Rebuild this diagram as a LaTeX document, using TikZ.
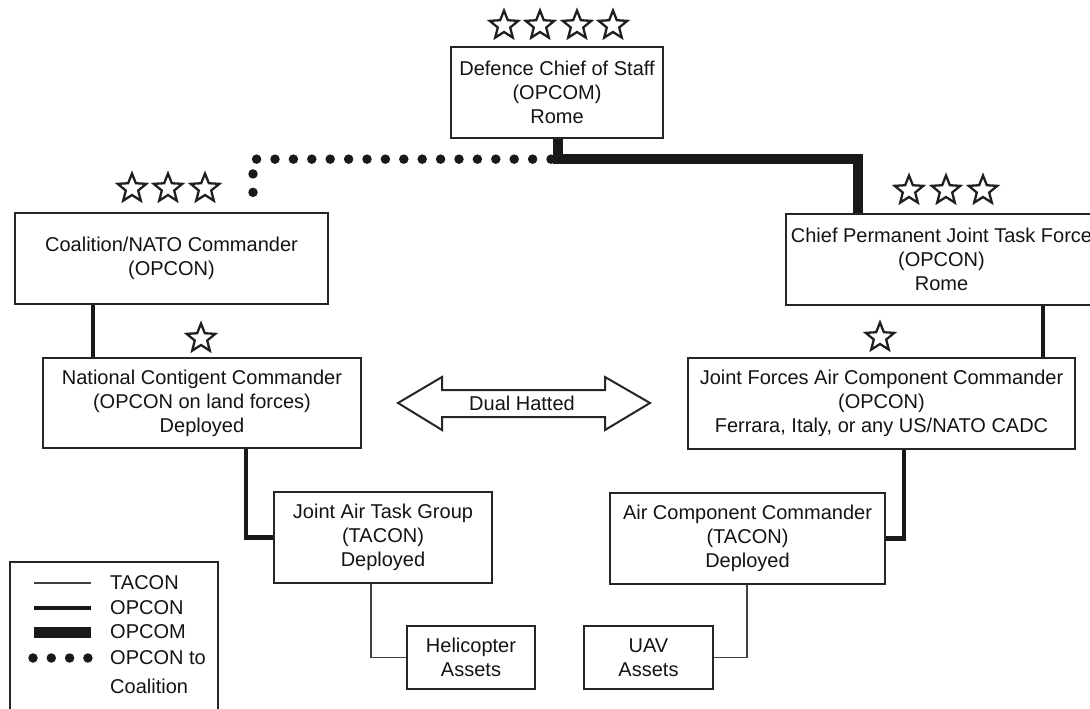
\documentclass[tikz,border=0pt]{standalone}
\usepackage{fontspec}
\setmainfont{Liberation Sans}
\usetikzlibrary{shapes.geometric}
\begin{document}
\begin{tikzpicture}[x=1pt,y=-1pt,
  every node/.style={font=\fontsize{20}{24}\selectfont, text=black!92},
  box/.style={draw=black!85, line width=2.3pt, align=center, inner sep=0pt, fill=white},
  rank/.style={star, star points=5, star point ratio=2.3, draw=black!88, line width=2.3pt, minimum size=30pt, inner sep=0pt},
  tacon/.style={draw=black!75, line width=1.2pt},
  opcon/.style={draw=black!90, line width=4.8pt},
  opcom/.style={draw=black!90, line width=9.5pt},
  coalline/.style={draw=black!90, line width=9.5pt, line cap=round, dash pattern=on 0pt off 18.4pt},
  legtext/.style={anchor=west, inner sep=0pt}
]
\useasboundingbox (0,0) rectangle (1090,709);
\clip (0,0) rectangle (1090,709);

% boxes
\node[box, minimum width=212pt, minimum height=91pt] (DCS) at (557,92.5) {Defence Chief of Staff\\(OPCOM)\\Rome};
\node[box, minimum width=313pt, minimum height=91pt] (Coal) at (171.5,258.5) {Coalition/NATO Commander\\(OPCON)};
\node[box, minimum width=311pt, minimum height=91pt] (PJTF) at (941.5,259.5) {Chief Permanent Joint Task Force\\(OPCON)\\Rome};
\node[box, minimum width=318pt, minimum height=90pt] (NCC) at (202,403) {National Contigent Commander\\(OPCON on land forces)\\Deployed};
\node[box, minimum width=387pt, minimum height=91pt] (JFACC) at (881.5,403.5) {Joint Forces Air Component Commander\\(OPCON)\\Ferrara, Italy, or any US/NATO CADC};
\node[box, minimum width=218pt, minimum height=91pt] (JATG) at (383,537.5) {Joint Air Task Group\\(TACON)\\Deployed};
\node[box, minimum width=275pt, minimum height=91pt] (ACC) at (747.5,538.5) {Air Component Commander\\(TACON)\\Deployed};
\node[box, minimum width=128pt, minimum height=63pt] (Heli) at (471,657.5) {Helicopter\\Assets};
\node[box, minimum width=129pt, minimum height=63pt] (UAV) at (648.5,657.5) {UAV\\Assets};

% stars
\node[rank] (d1) at (504,25.5) {};
\node[rank] (d2) at (540,25.5) {};
\node[rank] (d3) at (577,25.5) {};
\node[rank] (d4) at (613,25.5) {};
\node[rank] (c1) at (132,188.5) {};
\node[rank] (c2) at (168,188.5) {};
\node[rank] (c3) at (205,188.5) {};
\node[rank] (p1) at (909,190.5) {};
\node[rank] (p2) at (946,190.5) {};
\node[rank] (p3) at (983,190.5) {};
\node[rank] (n1) at (201,338.5) {};
\node[rank] (j1) at (880,337.5) {};

% connectors
\draw[coalline] (DCS.south) ++(-6,20) -| ([xshift=81.5pt,yshift=12pt]Coal.north);
\draw[opcom] ([xshift=1pt]DCS.south) -- ++(0,20) -| ([xshift=-83.5pt]PJTF.north);
\draw[opcon] ([xshift=-78.5pt]Coal.south) -- ([xshift=-78.5pt]Coal.south |- NCC.north);
\draw[opcon] ([xshift=101.5pt]PJTF.south) -- ([xshift=101.5pt]PJTF.south |- JFACC.north);
\draw[opcon] ([xshift=44pt]NCC.south) |- (JATG.west);
\draw[opcon] ([xshift=22.5pt]JFACC.south) |- (ACC.east);
\draw[tacon] ([xshift=-12pt]JATG.south) |- (Heli.west);
\draw[tacon] ([xshift=-0.5pt]ACC.south) |- (UAV.east);

% dual hatted arrow
\draw[draw=black!85, line width=2pt, line join=miter]
  (398,403) -- (442,377) -- (442,390) -- (605,390) -- (605,377) -- (650,403)
  -- (605,430) -- (605,417) -- (442,417) -- (442,430) -- cycle;
\node (DH) at (522,403) {Dual Hatted};

% legend
\draw[draw=black!85, line width=2.3pt] (10,720) -- (10,562) -- (218,562) -- (218,720);
\coordinate (la1) at (34,583); \coordinate (lb1) at (91,583);
\coordinate (la2) at (34,608); \coordinate (lb2) at (91,608);
\coordinate (la3) at (34,632); \coordinate (lb3) at (91,632);
\coordinate (la4) at (33,658); \coordinate (lb4) at (92,658);
\draw[tacon] (la1) -- (lb1);
\draw[opcon] (la2) -- (lb2);
\draw[draw=black!90, line width=11pt] (la3) -- (lb3);
\draw[coalline, dash pattern=on 0pt off 18.3pt] (la4) -- (lb4);
\node[legtext] (t1) at (110,583) {TACON};
\node[legtext] (t2) at (110,608) {OPCON};
\node[legtext] (t3) at (110,632) {OPCOM};
\node[legtext] (t4) at (110,658) {OPCON to};
\node[legtext] (t5) at (110,686) {Coalition};
\end{tikzpicture}
\end{document}
